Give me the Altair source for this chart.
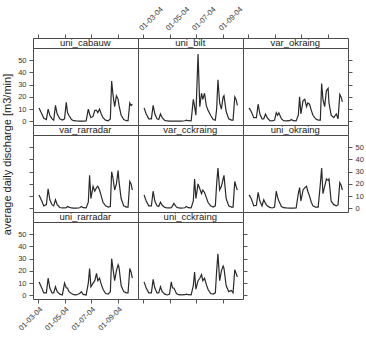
import altair as alt
import pandas as pd

stations = ["uni_cabauw", "uni_bilt", "var_okraing",
            "var_rarradar", "var_cckraing", "uni_okraing",
            "uni_rarradar", "uni_cckraing"]

# days after 2004-03-01
days = [2, 7, 13, 19, 23, 27, 32, 36, 40, 44,
        50, 56, 61, 65, 68, 71, 77, 82, 88, 96,
        100, 104, 111, 116, 119, 122, 127, 131, 135, 138,
        142, 146, 150, 156, 162, 167, 170, 173, 177, 181,
        185, 187, 192, 198, 204, 208, 212, 215, 218]

uni_cabauw = [11, 7, 2.5, 1.5, 10, 5, 2, 1, 13, 6,
              2, 1, 2, 15.5, 7, 5, 1.5, 0.5, 0.3, 0.2,
              0.2, 0.2, 0.3, 10, 6, 3, 4, 9, 9, 7,
              10, 6, 3, 1, 0.5, 2, 33, 22, 12, 21,
              18, 13, 5, 1.5, 0.5, 0.5, 15, 13, 14]
uni_bilt = [11, 6, 2, 2, 13, 6, 2, 1.5, 6, 3,
            0.8, 0.3, 0.2, 0.2, 0.2, 0.2, 0.2, 0.2, 0.2, 0.5,
            1, 0.5, 0.3, 18, 12, 5, 55, 12, 23, 18,
            23, 13, 9, 5, 1.5, 1, 10, 34, 15, 10,
            20, 21, 8, 2, 1, 1, 20, 18, 13]
var_okraing = [11, 8, 3, 3, 14, 6, 2, 2, 6, 3,
               0.5, 0.3, 1, 7, 5, 7, 2, 0.5, 0.3, 0.5,
               1.5, 0.5, 0.3, 5, 20, 6, 17, 18, 12, 15,
               14, 9, 5, 2, 1, 1, 31, 18, 12, 25,
               27, 15, 5, 3, 6, 2, 22, 20, 16]
var_rarradar = [11, 7, 2, 3, 16, 7, 3, 2, 7, 3,
                0.7, 0.3, 0.3, 0.5, 1.5, 1, 0.3, 0.2, 0.2, 0.5,
                1.5, 0.5, 0.3, 5, 27, 8, 18, 14, 17, 18,
                15, 10, 5, 2, 1, 1.5, 30, 25, 15, 20,
                31, 22, 8, 2, 1, 1, 22, 20, 15]
var_cckraing = [11, 6, 2, 2, 14, 6, 2, 1.5, 5, 2.5,
                0.8, 0.3, 0.3, 0.5, 2, 4, 1, 0.3, 0.2, 0.5,
                1.5, 0.5, 0.3, 6, 24, 8, 20, 16, 12, 15,
                13, 9, 5, 2, 1, 2, 20, 33, 15, 18,
                24, 27, 8, 2, 1, 1, 22, 18, 15]
uni_okraing = [11, 8, 2, 2.5, 13, 6, 2, 7, 4, 2,
               0.8, 0.3, 1, 14, 9, 6, 1.5, 0.5, 0.3, 0.2,
               0.2, 0.2, 0.3, 12, 17, 6, 15, 17, 18, 14,
               10, 5, 2, 1, 1, 20, 33, 12, 18, 24,
               23, 24, 6, 3, 2, 3, 21, 19, 15]
uni_rarradar = [11, 7, 2, 2, 14, 6, 2, 2, 7, 3,
                1, 0.3, 10, 6, 6, 3, 1.5, 0.5, 0.3, 1.5,
                3, 0.8, 0.3, 10, 22, 7, 10, 12, 18, 12,
                14, 9, 5, 1.5, 1, 3, 30, 22, 12, 20,
                25, 23, 8, 3, 2, 2, 22, 19, 14]
uni_cckraing = [11, 6, 2, 2, 13, 6, 2, 2, 7, 3,
                1, 0.3, 1, 11, 6, 6, 1.5, 0.5, 0.3, 0.5,
                1, 0.5, 0.3, 8, 19, 5, 12, 14, 17, 12,
                14, 9, 5, 1.5, 1, 2, 20, 34, 12, 20,
                24, 22, 8, 3, 4, 2, 21, 18, 15]

series = dict(zip(stations, [uni_cabauw, uni_bilt, var_okraing, var_rarradar,
                             var_cckraing, uni_okraing, uni_rarradar, uni_cckraing]))

y_ticks = [0, 10, 20, 30, 40, 50]
y_title = "average daily discharge [m3/min]"

start = pd.Timestamp("2004-03-01")
recs = []
for s in stations:
    for d, v in zip(days, series[s]):
        recs.append({"station": s, "date": (start + pd.Timedelta(days=d)).strftime("%Y-%m-%d"), "value": v})
df = pd.DataFrame(recs)
strip_df = pd.DataFrame({"station": stations, "mid": ["2004-06-18"] * len(stations)})

W, PH, SH = 105, 77, 10
FONT = "Liberation Sans"
BORDER = "#4a4a4a"

xscale = alt.Scale(domain=[alt.DateTime(year=2004, month=2, date=18),
                           alt.DateTime(year=2004, month=10, date=18)], nice=False)
yscale = alt.Scale(domain=[-3, 60], nice=False, zero=False)
xvals = [alt.DateTime(year=2004, month=m, date=1) for m in (3, 5, 7, 9)]


def xaxis(orient, labels):
    return alt.Axis(orient=orient, values=xvals, format="%d-%m-%y", formatType="time",
                    labels=labels, labelAngle=315, labelFontSize=7.5, labelColor="#333",
                    labelPadding=2, labelOverlap=False, labelBound=False, labelFlush=False,
                    tickSize=4, tickColor="#555", domain=False,
                    grid=False, title=None)


def yaxis(orient, labels, title=False):
    kw = dict(orient=orient, values=y_ticks, labels=labels, labelFontSize=7.5,
              labelColor="#333", labelPadding=3, tickSize=4, tickColor="#555",
              labelOverlap=False, labelFlush=False, domain=False, grid=False)
    if title:
        kw.update(title=y_title, titleFontSize=11, titleFontWeight="normal",
                  titleColor="#222", titlePadding=16, titleY=19)
    else:
        kw.update(title=None)
    return alt.Axis(**kw)


def strip(name, axis):
    return alt.Chart(strip_df).transform_filter(alt.datum.station == name).mark_text(
        fontSize=9.5, color="#222", baseline="middle", font=FONT
    ).encode(
        x=alt.X("mid:T", scale=xscale, axis=axis),
        y=alt.value(SH / 2),
        text="station:N",
    ).properties(width=W, height=SH,
                 view=alt.ViewBackground(stroke=BORDER, fill="white"))


def panel(name, xax, yax):
    return alt.Chart(df).transform_filter(alt.datum.station == name).mark_line(
        color="#2a2a2a", strokeWidth=1.2
    ).encode(
        x=alt.X("date:T", scale=xscale, axis=xax),
        y=alt.Y("value:Q", scale=yscale, axis=yax),
    ).properties(width=W, height=PH,
                 view=alt.ViewBackground(stroke=BORDER, fill="white"))


blank = alt.Chart(strip_df).mark_point(opacity=0).encode(
    x=alt.value(0), y=alt.value(0)
).properties(width=W, height=SH, view=alt.ViewBackground(strokeOpacity=0))

items = [
    strip("uni_cabauw", xaxis("top", False)),
    strip("uni_bilt", xaxis("top", True)),
    strip("var_okraing", xaxis("top", False)),
    panel("uni_cabauw", None, yaxis("left", True)),
    panel("uni_bilt", None, None),
    panel("var_okraing", None, yaxis("right", False)),
    strip("var_rarradar", None),
    strip("var_cckraing", None),
    strip("uni_okraing", None),
    panel("var_rarradar", None, yaxis("left", False, title=True)),
    panel("var_cckraing", None, None),
    panel("uni_okraing", None, yaxis("right", True)),
    strip("uni_rarradar", None),
    strip("uni_cckraing", None),
    blank,
    panel("uni_rarradar", xaxis("bottom", True), yaxis("left", True)),
    panel("uni_cckraing", xaxis("bottom", False), yaxis("right", False)),
]

chart = alt.ConcatChart(concat=items, columns=3, spacing=0, align="each",
                        bounds="flush").properties(
    padding={"left": 0, "top": 4, "right": 0, "bottom": 0},
    background="white",
).configure(font=FONT).configure_view(stroke=BORDER)

chart.save("out.html", embed_options={"renderer": "svg", "actions": False})
